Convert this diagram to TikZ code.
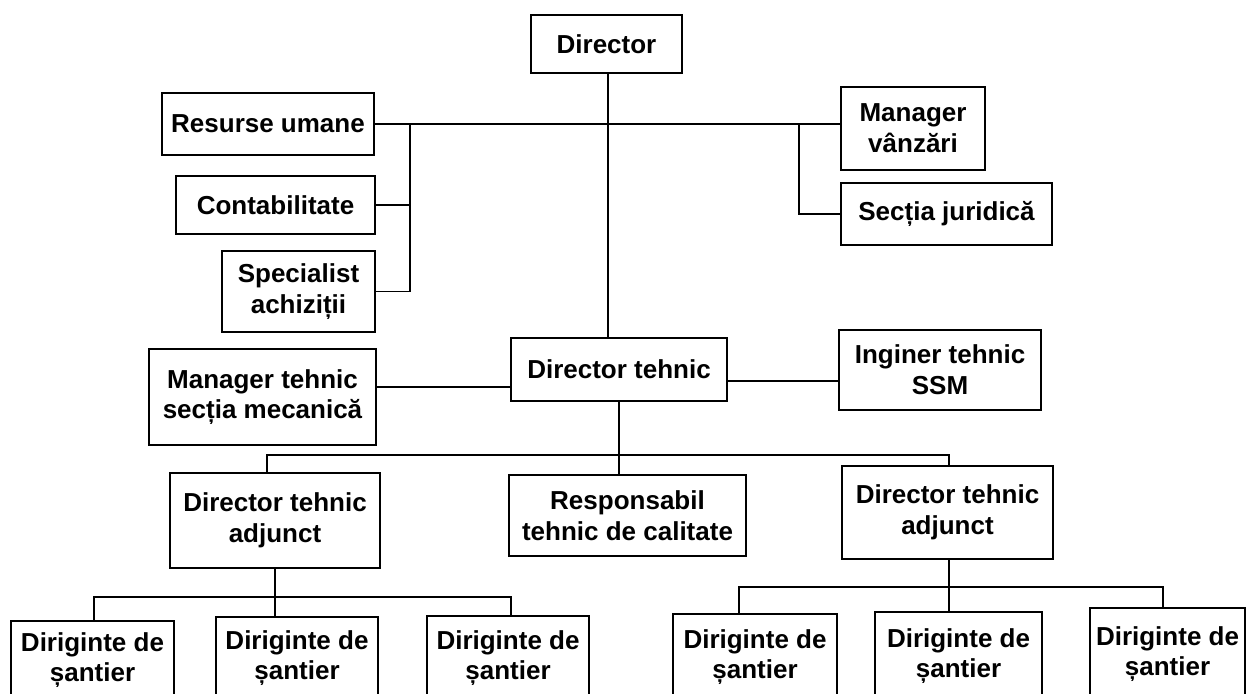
\documentclass[tikz,border=0pt]{standalone}
\usepackage{fontspec}
\setmainfont{Liberation Sans}
\begin{document}
\begin{tikzpicture}[x=0.75pt,y=-0.75pt,
  box/.style={draw=black, line width=2pt, align=center, inner sep=0pt,
    font=\fontsize{19.5}{23}\selectfont\bfseries},
  link/.style={draw=black, line width=1pt}]
\useasboundingbox[fill=white] (0,0) rectangle (1248,693);
% nodes (centre, width, height in px)
\node[box, minimum width=113.25pt, minimum height=43.5pt] (D) at (606.5,44) {Director};
\node[box, minimum width=159pt, minimum height=46.5pt] (RU) at (268,124) {Resurse umane};
\node[box, minimum width=149.25pt, minimum height=43.5pt] (CT) at (275.5,205) {Contabilitate};
\node[box, minimum width=114.75pt, minimum height=60.75pt] (SP) at (298.5,291.5) {Specialist\\achiziții};
\node[box, minimum width=108pt, minimum height=62.25pt] (MV) at (913,128.5) {Manager\\vânzări};
\node[box, minimum width=158.25pt, minimum height=46.5pt] (SJ) at (946.5,214) {Secția juridică};
\node[box, minimum width=170.25pt, minimum height=72pt] (MT) at (262.5,397) {Manager tehnic\\secția mecanică};
\node[box, minimum width=162pt, minimum height=47.25pt] (DT) at (619,369.5) {Director tehnic};
\node[box, minimum width=151.5pt, minimum height=60pt] (IT) at (940,370) {Inginer tehnic\\SSM};
\node[box, minimum width=157.5pt, minimum height=71.25pt] (LA) at (275,520.5) {Director tehnic\\adjunct};
\node[box, minimum width=177.75pt, minimum height=60.75pt] (RT) at (627.5,515.5) {Responsabil\\tehnic de calitate};
\node[box, minimum width=158.25pt, minimum height=69.75pt] (RA) at (947.5,512.5) {Director tehnic\\adjunct};
\node[box, minimum width=122.25pt, minimum height=58.5pt] (S1) at (92.5,660) {Diriginte de\\șantier};
\node[box, minimum width=121.5pt, minimum height=61.5pt] (S2) at (297,658) {Diriginte de\\șantier};
\node[box, minimum width=121.5pt, minimum height=63pt] (S3) at (508,658) {Diriginte de\\șantier};
\node[box, minimum width=123pt, minimum height=64.5pt] (S4) at (755,657) {Diriginte de\\șantier};
\node[box, minimum width=125.25pt, minimum height=66pt] (S5) at (958.5,656) {Diriginte de\\șantier};
\node[box, minimum width=116.25pt, minimum height=69pt] (S6) at (1167.5,654) {Diriginte de\\șantier};
% helper coordinates
\coordinate (v0) at (608,124);
\coordinate (bl) at (410,124);
\coordinate (br) at (799,124);
\coordinate (hm) at (450,387);
\coordinate (hi) at (780,381);
\coordinate (b1l) at (267,455);
\coordinate (b1r) at (949,455);
\coordinate (b2l) at (94,597);
\coordinate (b2r) at (511,597);
\coordinate (b3l) at (739,587);
\coordinate (b3r) at (1163,587);
% connectors
\draw[link] (D.south -| v0) -- (v0 |- DT.north);
\draw[link] (RU.east) -- (RU.east -| MV.west);
\draw[link] (bl) |- (SP.east);
\draw[link] (CT.east) -- (CT.east -| bl);
\draw[link] (br) |- (SJ.west);
\draw[link] (hm -| MT.east) -- (hm -| DT.west);
\draw[link] (hi -| DT.east) -- (hi -| IT.west);
\draw[link] (DT.south) -- (DT.south |- RT.north);
\draw[link] (b1l |- LA.north) -- (b1l) -- (b1r) -- (b1r |- RA.north);
\draw[link] (LA.south) -- (LA.south |- S2.north);
\draw[link] (b2l |- S1.north) -- (b2l) -- (b2r) -- (b2r |- S3.north);
\draw[link] (RA.south -| b1r) -- (b1r |- S5.north);
\draw[link] (b3l |- S4.north) -- (b3l) -- (b3r) -- (b3r |- S6.north);
\end{tikzpicture}
\end{document}
